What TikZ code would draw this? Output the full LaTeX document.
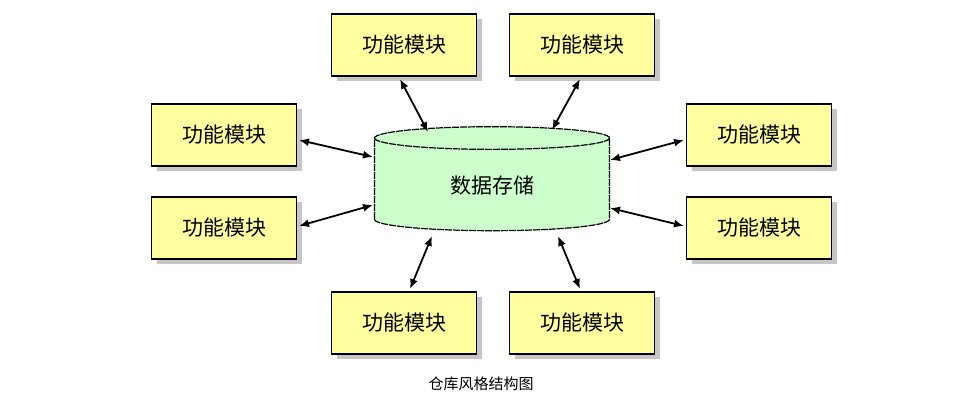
\documentclass[tikz,border=0pt]{standalone}
\usepackage{fontspec}
\newfontfamily\cjk{Noto Sans CJK SC}
\usetikzlibrary{shapes.geometric,shadows,arrows.meta}

\begin{document}
\begin{tikzpicture}[
		x=1pt, y=-1pt,
		every node/.style={font=\cjk},
		module/.style={rectangle, draw, line width=1.4pt, fill={rgb,255:red,255;green,255;blue,160},
			minimum width=145pt, minimum height=62pt, font=\cjk\fontsize{21}{21}\selectfont,
			drop shadow={shadow xshift=5pt, shadow yshift=-5pt, fill=gray!45, opacity=1}},
		link/.style={{Latex[length=10pt,width=8pt]}-{Latex[length=10pt,width=8pt]}, line width=1.8pt}
	]
  \useasboundingbox (0,0) rectangle (962,402);
  \node (db) [cylinder, shape border rotate=90, draw, line width=1.2pt, dash pattern=on 7pt off 1pt,
    fill={rgb,255:red,204;green,255;blue,204}, minimum width=235pt, minimum height=104pt,
    aspect=0.25, font=\cjk\fontsize{21}{21}\selectfont] at (492,186) {数据存储};
  \node (m_tl) [module] at (404,45) {功能模块};
  \node (m_tr) [module] at (582,45) {功能模块};
  \node (m_lu) [module] at (224,135) {功能模块};
  \node (m_ll) [module] at (224,228) {功能模块};
  \node (m_ru) [module] at (759,135) {功能模块};
  \node (m_rl) [module] at (759,228) {功能模块};
  \node (m_bl) [module] at (404,323) {功能模块};
  \node (m_br) [module] at (582,323) {功能模块};
  \node (caption) [draw=none, font=\cjk\fontsize{15}{15}\selectfont] at (481,384) {仓库风格结构图};
  \draw[link] ([shift={(-4,34)}]m_tl.center) -- ([shift={(-64,-54)}]db.center);
  \draw[link] ([shift={(-2,34)}]m_tr.center) -- ([shift={(60,-56)}]db.center);
  \draw[link] ([shift={(75,5)}]m_lu.center) -- ([shift={(-119,-29)}]db.center);
  \draw[link] ([shift={(75,-2)}]m_ll.center) -- ([shift={(-119,19)}]db.center);
  \draw[link] ([shift={(-75,5)}]m_ru.center) -- ([shift={(118,-26)}]db.center);
  \draw[link] ([shift={(-75,-2)}]m_rl.center) -- ([shift={(118,22)}]db.center);
  \draw[link] ([shift={(6,-34)}]m_bl.center) -- ([shift={(-60,50)}]db.center);
  \draw[link] ([shift={(-2,-34)}]m_br.center) -- ([shift={(66,50)}]db.center);
\end{tikzpicture}
\end{document}
